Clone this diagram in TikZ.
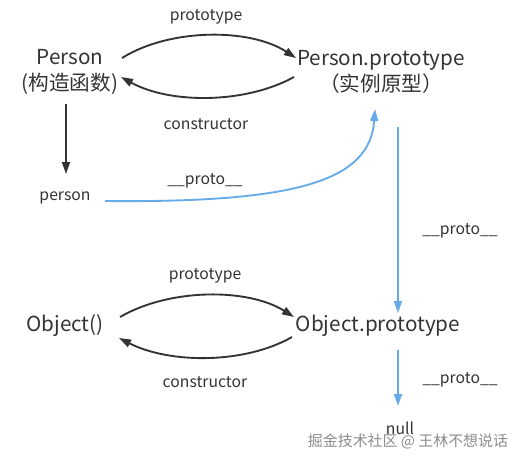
\documentclass[tikz,border=0pt]{standalone}
\usepackage{fontspec}
\setmainfont{Noto Sans CJK SC}
\usetikzlibrary{arrows.meta}
\definecolor{ink}{HTML}{333333}
\definecolor{pblue}{HTML}{66AAEA}
\begin{document}
\begin{tikzpicture}[x=0.75pt,y=-0.75pt,
  big/.style={font=\fontsize{15.5pt}{19pt}\selectfont, text=ink, inner sep=0pt, align=center},
  small/.style={font=\fontsize{11.8pt}{14pt}\selectfont, text=ink, inner sep=0pt},
  blk/.style={draw=ink, line width=1.4pt, -{Triangle[length=9pt,width=6pt]}},
  blu/.style={draw=pblue, line width=1.4pt, -{Triangle[length=9pt,width=6pt]}}]
\useasboundingbox (0,0) rectangle (521,462);
% nodes
\node[big] (P) at (70,72) {Person\\(构造函数)};
\node[big] (PP) at (381,72) {Person.prototype\\（实例原型）};
\node[small] (pers) at (65,198) {person};
\node[big] (O) at (65,326) {Object()};
\node[big] (OP) at (378,326) {Object.prototype};
\node[small] (nul) at (400,428) {null};
% labels
\node[small] (l1) at (206,17) {prototype};
\node[small] (l2) at (206,124) {constructor};
\node[small] (l3) at (205,181) {\_\_proto\_\_};
\node[small] (l4) at (460,231) {\_\_proto\_\_};
\node[small] (l5) at (205,276) {prototype};
\node[small] (l6) at (205,382) {constructor};
\node[small] (l7) at (460,380) {\_\_proto\_\_};
\node[font=\fontsize{11.2pt}{13pt}\selectfont, text=black!45, inner sep=0pt] (wm) at (408,441) {掘金技术社区 @ 王林不想说话};
% coordinates
\coordinate (a1) at (122,58); \coordinate (a2) at (296,58);
\coordinate (b1) at (294,77); \coordinate (b2) at (121,77);
\coordinate (c1) at (66,104); \coordinate (c2) at (66,174);
\coordinate (d1) at (105,201); \coordinate (d2) at (375,109);
\coordinate (e1) at (398,127); \coordinate (e2) at (398,313);
\coordinate (f1) at (120,317); \coordinate (f2) at (294,317);
\coordinate (g1) at (292,337); \coordinate (g2) at (119,338);
\coordinate (h1) at (398,350); \coordinate (h2) at (398,406);
% connectors
\draw[blk] (a1) .. controls (170,28) and (250,28) .. (a2);
\draw[blk] (b1) .. controls (245,104) and (170,104) .. (b2);
\draw[blk] (c1) -- (c2);
\draw[blu] (d1) .. controls (300,203) and (370,180) .. (d2);
\draw[blu] (e1) -- (e2);
\draw[blk] (f1) .. controls (170,288) and (248,288) .. (f2);
\draw[blk] (g1) .. controls (245,364) and (170,364) .. (g2);
\draw[blu] (h1) -- (h2);
\end{tikzpicture}
\end{document}
